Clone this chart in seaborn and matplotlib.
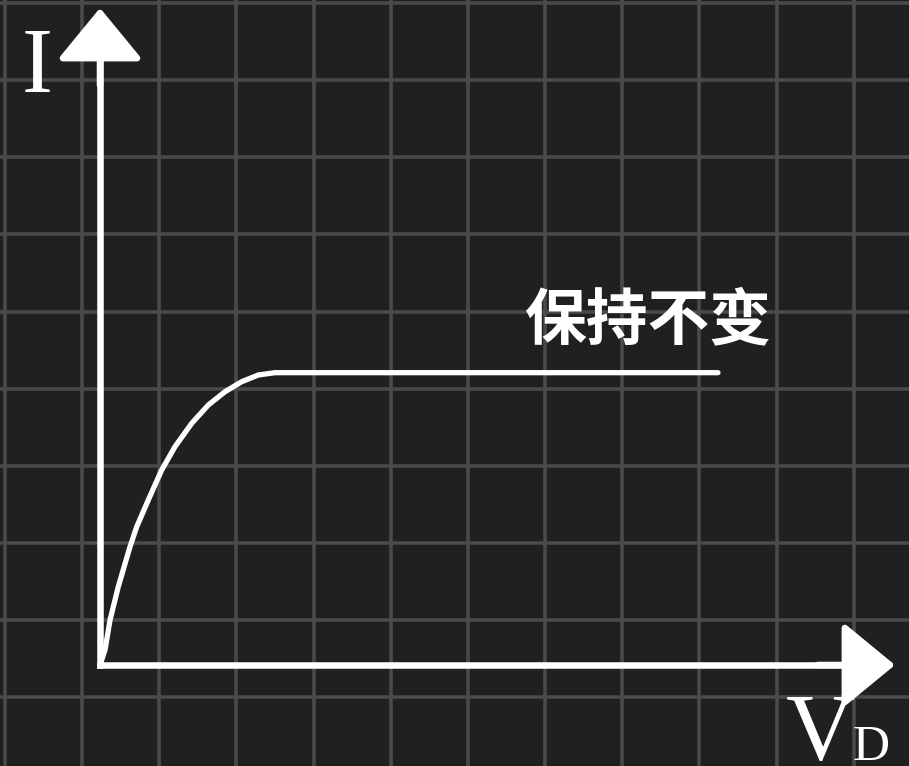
import numpy as np
import pandas as pd
import matplotlib
matplotlib.use("Agg")
import matplotlib.pyplot as plt
import seaborn as sns

# ---- data (grid units; origin at the axes corner) ----
V = [0.000, 0.065, 0.130, 0.237, 0.389, 0.476, 0.626, 0.800, 0.972, 1.189,
     1.404, 1.620, 1.837, 2.052, 2.268, 8.010]
I = [0.000, 0.194, 0.583, 1.015, 1.533, 1.792, 2.139, 2.528, 2.830, 3.133,
     3.370, 3.542, 3.672, 3.759, 3.789, 3.789]
label_flat = "保持不变"
label_y = "I"
label_x = "V"
label_x_sub = "D"

df = pd.DataFrame({"V": V, "I": I})

BG = "#202020"
GRID = "#4a4a4a"

sns.set_theme(style="dark")
plt.rcParams["font.family"] = ["Noto Sans CJK SC", "DejaVu Sans"]

W, H = 909, 766
fig = plt.figure(figsize=(W / 100, H / 100), dpi=100, facecolor=BG)
ax = fig.add_axes([0, 0, 1, 1])
ax.set_facecolor(BG)

unit = 77.15
ox, oy = 100, 665

# curve
sns.lineplot(data=df, x="V", y="I", ax=ax, color="white", lw=3.8,
             estimator=None, sort=False, zorder=5)
ax.lines[-1].set_solid_joinstyle("round")
ax.set_xlabel("")
ax.set_ylabel("")

# axes arrows
x_end = (895 - ox) / unit
y_end = (oy - 8) / unit
ax.plot([0, 0], [0, y_end - 0.3], color="white", lw=4.7, solid_capstyle="projecting", zorder=3)
ax.plot([0, x_end - 0.3], [0, 0], color="white", lw=4.7, solid_capstyle="projecting", zorder=3)
style = "-|>,head_length=0.45,head_width=0.37"
ax.annotate("", xy=(0, y_end), xytext=(0, y_end - 1),
            arrowprops=dict(arrowstyle=style, color="white", lw=4.7,
                            mutation_scale=72, shrinkA=0, shrinkB=0), zorder=4)
ax.annotate("", xy=(x_end, 0), xytext=(x_end - 1, 0),
            arrowprops=dict(arrowstyle=style, color="white", lw=4.7,
                            mutation_scale=72, shrinkA=0, shrinkB=0), zorder=4)

# grid, then limits
xlo, xhi = -ox / unit, (W - ox) / unit
ylo, yhi = -(H - oy) / unit, oy / unit
xg = np.arange(-1.231, 12, 1.0)
yg = np.arange(0.581 - 3, 9, 1.0)
ax.set_xticks(xg[(xg >= xlo) & (xg <= xhi)])
ax.set_yticks(yg[(yg >= ylo) & (yg <= yhi)])
ax.set_xlim(xlo, xhi)
ax.set_ylim(ylo, yhi)
ax.tick_params(length=0, labelbottom=False, labelleft=False)
ax.grid(True, color=GRID, linewidth=2.6)
for s in ax.spines.values():
    s.set_visible(False)

# labels
fig.text(37 / W, 1 - 92 / H, label_y, family="Liberation Serif", fontsize=67,
         color="white", ha="center", va="baseline")
fig.text(786 / W, 1 - 760 / H, label_x, family="Liberation Serif", fontsize=69,
         color="white", ha="left", va="baseline")
fig.text(853 / W, 1 - 760 / H, label_x_sub, family="Liberation Serif", fontsize=37,
         color="white", ha="left", va="baseline")
fig.text(648 / W, 1 - 321 / H, label_flat, family=["Noto Sans CJK SC", "DejaVu Sans"],
         fontsize=44.5, fontweight="bold", color="white", ha="center", va="center")

fig.savefig("out.png", dpi=100, facecolor=BG)
